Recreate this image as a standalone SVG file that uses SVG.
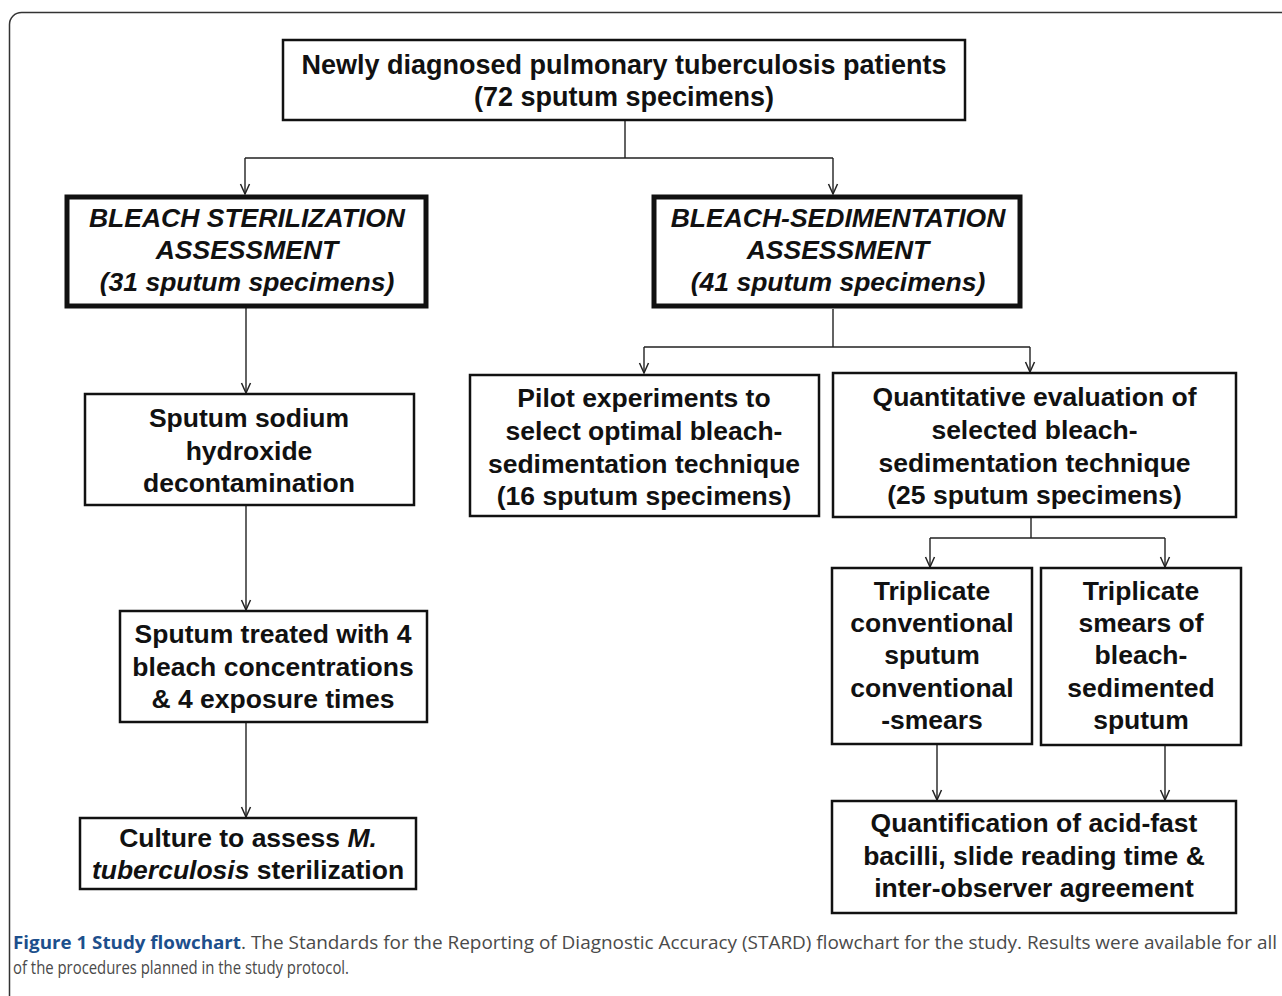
<svg xmlns="http://www.w3.org/2000/svg" width="1282" height="996" viewBox="0 0 1282 996">
<style>
.box{fill:#fff;stroke:#111;stroke-width:2.5}
.thick{fill:#fff;stroke:#111;stroke-width:5}
.t{font-family:"Liberation Sans",Arial,sans-serif;font-weight:bold;font-size:26.5px;fill:#111;text-anchor:middle}
.ti{font-style:italic}
.c{fill:none;stroke:#222;stroke-width:1.4}
.cap{font-family:"Open Sans","Liberation Sans",sans-serif;font-size:18px;fill:#4a4a4a}
.capb{font-family:"Open Sans","Liberation Sans",sans-serif;font-size:18px;font-weight:bold;fill:#1d4f8c}
</style>
<defs>
<marker id="arr" viewBox="-12 -7 14 14" refX="0" refY="0" markerWidth="14" markerHeight="14" markerUnits="userSpaceOnUse" orient="auto">
<path d="M-10,-4.5 L0,0 L-10,4.5" fill="none" stroke="#222" stroke-width="1.5"/>
</marker>
</defs>
<rect x="9.5" y="12.5" width="1300" height="1000" rx="12" fill="none" stroke="#333" stroke-width="1.5"/>

<g id="connectors">
<path class="c" d="M625,120 V158 M245,158 H833"/>
<path class="c" d="M245,158 V194" marker-end="url(#arr)"/>
<path class="c" d="M833,158 V194" marker-end="url(#arr)"/>
<path class="c" d="M246,308 V393" marker-end="url(#arr)"/>
<path class="c" d="M246,506 V610" marker-end="url(#arr)"/>
<path class="c" d="M246,723 V817" marker-end="url(#arr)"/>
<path class="c" d="M833,309 V347 M644,347 H1030"/>
<path class="c" d="M644,347 V373" marker-end="url(#arr)"/>
<path class="c" d="M1030,347 V372" marker-end="url(#arr)"/>
<path class="c" d="M1031,518 V538 M930,538 H1165"/>
<path class="c" d="M930,538 V567" marker-end="url(#arr)"/>
<path class="c" d="M1165,538 V567" marker-end="url(#arr)"/>
<path class="c" d="M937,745 V800" marker-end="url(#arr)"/>
<path class="c" d="M1165,746 V800" marker-end="url(#arr)"/>
</g>

<g id="n_top">
<rect class="box" x="283" y="40" width="682" height="80"/>
<text class="t" style="font-size:27px" x="624" y="74">Newly diagnosed pulmonary tuberculosis patients</text>
<text class="t" style="font-size:27px" x="624" y="106">(72 sputum specimens)</text>
</g>

<g id="n_bleach_ster">
<rect class="thick" x="67" y="197" width="359" height="109"/>
<text class="t ti" x="247" y="227">BLEACH STERILIZATION</text>
<text class="t ti" x="247" y="259">ASSESSMENT</text>
<text class="t ti" x="247" y="291">(31 sputum specimens)</text>
</g>

<g id="n_bleach_sed">
<rect class="thick" x="654" y="197" width="366" height="109"/>
<text class="t ti" x="838" y="227">BLEACH-SEDIMENTATION</text>
<text class="t ti" x="838" y="259">ASSESSMENT</text>
<text class="t ti" x="838" y="291">(41 sputum specimens)</text>
</g>

<g id="n_naoh">
<rect class="box" x="85" y="394" width="329" height="111"/>
<text class="t" x="249" y="427">Sputum sodium</text>
<text class="t" x="249" y="459.5">hydroxide</text>
<text class="t" x="249" y="492">decontamination</text>
</g>

<g id="n_treated">
<rect class="box" x="120" y="611" width="307" height="111"/>
<text class="t" x="273" y="643">Sputum treated with 4</text>
<text class="t" x="273" y="675.5">bleach concentrations</text>
<text class="t" x="273" y="708">&amp; 4 exposure times</text>
</g>

<g id="n_culture">
<rect class="box" x="80" y="818" width="336" height="71"/>
<text class="t" x="248" y="847">Culture to assess <tspan class="ti">M.</tspan></text>
<text class="t" x="248" y="879"><tspan class="ti">tuberculosis</tspan> sterilization</text>
</g>

<g id="n_pilot">
<rect class="box" x="470" y="375" width="349" height="141"/>
<text class="t" x="644" y="407">Pilot experiments to</text>
<text class="t" x="644" y="440">select optimal bleach-</text>
<text class="t" x="644" y="473">sedimentation technique</text>
<text class="t" x="644" y="505">(16 sputum specimens)</text>
</g>

<g id="n_quant">
<rect class="box" x="833" y="373" width="403" height="144"/>
<text class="t" x="1034.5" y="406">Quantitative evaluation of</text>
<text class="t" x="1034.5" y="439">selected bleach-</text>
<text class="t" x="1034.5" y="472">sedimentation technique</text>
<text class="t" x="1034.5" y="504">(25 sputum specimens)</text>
</g>

<g id="n_trip_conv">
<rect class="box" x="832" y="568" width="200" height="176"/>
<text class="t" x="932" y="600">Triplicate</text>
<text class="t" x="932" y="632">conventional</text>
<text class="t" x="932" y="664">sputum</text>
<text class="t" x="932" y="696.5">conventional</text>
<text class="t" x="932" y="729">-smears</text>
</g>

<g id="n_trip_bleach">
<rect class="box" x="1041" y="568" width="200" height="177"/>
<text class="t" x="1141" y="600">Triplicate</text>
<text class="t" x="1141" y="632">smears of</text>
<text class="t" x="1141" y="664">bleach-</text>
<text class="t" x="1141" y="696.5">sedimented</text>
<text class="t" x="1141" y="729">sputum</text>
</g>

<g id="n_quantification">
<rect class="box" x="832" y="801" width="404" height="112"/>
<text class="t" x="1034" y="832">Quantification of acid-fast</text>
<text class="t" x="1034" y="865">bacilli, slide reading time &amp;</text>
<text class="t" x="1034" y="897">inter-observer agreement</text>
</g>

<g id="caption">
<text class="capb" x="13" y="949" textLength="228" lengthAdjust="spacingAndGlyphs">Figure 1 Study flowchart</text>
<text class="cap" x="241" y="949" textLength="1036" lengthAdjust="spacingAndGlyphs">. The Standards for the Reporting of Diagnostic Accuracy (STARD) flowchart for the study. Results were available for all</text>
<text class="cap" x="13" y="974" textLength="336" lengthAdjust="spacingAndGlyphs">of the procedures planned in the study protocol.</text>
</g>
</svg>
